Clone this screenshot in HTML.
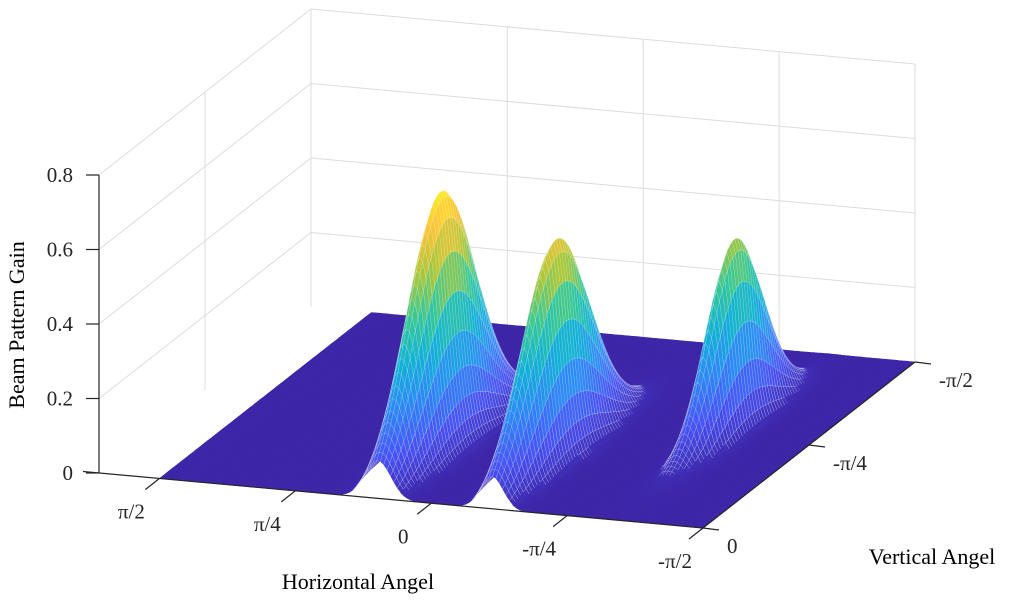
<!DOCTYPE html>
<html><head><meta charset="utf-8">
<style>
html,body{margin:0;padding:0;background:#fff;}
svg{display:block;font-family:"Liberation Serif",serif;}
</style></head>
<body>
<svg id="chart" width="1023" height="605" viewBox="0 0 1023 605" xmlns="http://www.w3.org/2000/svg">
<g id="grid"></g>
<g id="surface"></g>
<g id="axes"></g>
<text x="0" y="0" transform="translate(24,325) rotate(-90)" text-anchor="middle" font-size="22">Beam Pattern Gain</text>
<text x="358" y="589" text-anchor="middle" font-size="22">Horizontal Angel</text>
<text x="932" y="564" text-anchor="middle" font-size="22">Vertical Angel</text>
</svg>
<script>
// ---- data ----
const peakH = [0.31, -0.35, -1.08];      // horizontal angle of beams (rad)
const peakV = [-0.47, -0.47, -0.86];     // vertical angle of beams (rad)
const peakGain = [0.69, 0.59, 0.51];
const peakWidthH = [0.075, 0.065, 0.055]; // rad
const peakWidthV = [0.24, 0.24, 0.2];    // rad
const xTickLabels = ["\u03c0/2","\u03c0/4","0","-\u03c0/4","-\u03c0/2"];
const xTickValues = [Math.PI/2, Math.PI/4, 0, -Math.PI/4, -Math.PI/2];
const yTickLabels = ["0","-\u03c0/4","-\u03c0/2"];
const yTickValues = [0, -Math.PI/4, -Math.PI/2];
const zTickLabels = ["0","0.2","0.4","0.6","0.8"];
const zTickValues = [0,0.2,0.4,0.6,0.8];

const NS="http://www.w3.org/2000/svg";
const O=[99,473], U=[604,55], V=[212,-166], ZS=372.5;
function uOfH(h){return 0.1+0.9*(Math.PI/2-h)/Math.PI;}
function vOfV(a){return -a/(Math.PI/2);}
function P(u,v,z){return [O[0]+u*U[0]+v*V[0], O[1]+u*U[1]+v*V[1]-z*ZS];}
function mk(tag,attrs,parent){const e=document.createElementNS(NS,tag);for(const k in attrs)e.setAttribute(k,attrs[k]);parent.appendChild(e);return e;}
const parula=[[0.2422,0.1504,0.6603],[0.2810,0.3228,0.9579],[0.1786,0.5289,0.9682],[0.0689,0.6948,0.8394],[0.2161,0.7843,0.5923],[0.6720,0.7793,0.2227],[0.9970,0.7659,0.2199],[0.9769,0.9839,0.0805]];
function col(t){t=Math.max(0,Math.min(1,t));const s=t*(parula.length-1);const i=Math.min(parula.length-2,Math.floor(s));const f=s-i;
 const c=parula[i].map((a,k)=>Math.round(255*(a+(parula[i+1][k]-a)*f)));return `rgb(${c[0]},${c[1]},${c[2]})`;}
function gain(h,a){let g=0;for(let i=0;i<peakH.length;i++){const dh=(h-peakH[i])/peakWidthH[i],dv=(a-peakV[i])/peakWidthV[i];g+=peakGain[i]*Math.exp(-0.5*(dh*dh+dv*dv));}return g;}

// grid
const grid=document.getElementById('grid');
const gs={stroke:"#dcdcdc","stroke-width":1,fill:"none"};
function line(a,b,name,parent,st){const l=mk('line',Object.assign({x1:a[0],y1:a[1],x2:b[0],y2:b[1]},st),parent);return l;}
zTickValues.forEach(z=>{ if(z===0)return;
 line(P(0,0,z),P(0,1,z),'left-wall-gridline',grid,gs);
 line(P(0,1,z),P(1,1,z),'back-wall-gridline',grid,gs);});
[0.5,1].forEach(v=>line(P(0,v,0),P(0,v,0.8),'left-wall-vertical-gridline',grid,gs));
[0,uOfH(Math.PI/4),uOfH(0),uOfH(-Math.PI/4),1].forEach(u=>line(P(u,1,0),P(u,1,0.8),'back-wall-vertical-gridline',grid,gs));

// surface
const surf=document.getElementById('surface');
const nu=160,nv=80;const u0=0.1;
const Z=[];
for(let j=0;j<=nv;j++){Z[j]=[];const v=j/nv;const a=-v*Math.PI/2;
 for(let i=0;i<=nu;i++){const u=u0+(1-u0)*i/nu;const h=Math.PI/2-(u-0.1)/0.9*Math.PI;Z[j][i]=gain(h,a);}}
for(let j=nv-1;j>=0;j--){for(let i=0;i<nu;i++){
 const ua=u0+(1-u0)*i/nu, ub=u0+(1-u0)*(i+1)/nu, va=j/nv, vb=(j+1)/nv;
 const p1=P(ua,va,Z[j][i]),p2=P(ub,va,Z[j][i+1]),p3=P(ub,vb,Z[j+1][i+1]),p4=P(ua,vb,Z[j+1][i]);
 const zm=(Z[j][i]+Z[j][i+1]+Z[j+1][i]+Z[j+1][i+1])/4;const c=col(zm/0.72);
 const hi=zm>0.02;
 const pg=mk('polygon',{points:[p1,p2,p3,p4].map(p=>p[0].toFixed(1)+','+p[1].toFixed(1)).join(' '),fill:c,stroke:hi?'#ffffff':c,'stroke-width':hi?0.3:0.6,'stroke-opacity':hi?0.55:1},surf);
 
 
}}

// axes
const ax=document.getElementById('axes');
const as={stroke:"#262626","stroke-width":1.2,fill:"none"};
line([83,471.5],P(1,0,0),'x-axis-line',ax,as);
line(P(1,0,0),P(1,1,0),'y-axis-line',ax,as);
line(P(0,0,0),P(0,0,0.8),'z-axis-line',ax,as);
xTickValues.forEach((h,k)=>{const u=uOfH(h);const p=P(u,0,0);
 line(p,[p[0]-14,p[1]+11],'x-tick',ax,as);
 const t=mk('text',{x:p[0]-28,y:p[1]+40,'text-anchor':'middle','font-size':21,fill:'#262626'},ax);t.textContent=xTickLabels[k];
 });
yTickValues.forEach((a,k)=>{const v=vOfV(a);const p=P(1,v,0);
 line(p,[p[0]+16,p[1]+2],'y-tick',ax,as);
 const t=mk('text',{x:p[0]+24,y:p[1]+25,'text-anchor':'start','font-size':21,fill:'#262626'},ax);t.textContent=yTickLabels[k];
 });
zTickValues.forEach((z,k)=>{const p=P(0,0,z);
 line(p,[p[0]-13,p[1]],'z-tick',ax,as);
 const t=mk('text',{x:73,y:p[1]+7,'text-anchor':'end','font-size':21,fill:'#262626'},ax);t.textContent=zTickLabels[k];
 });
</script>
</body></html>
